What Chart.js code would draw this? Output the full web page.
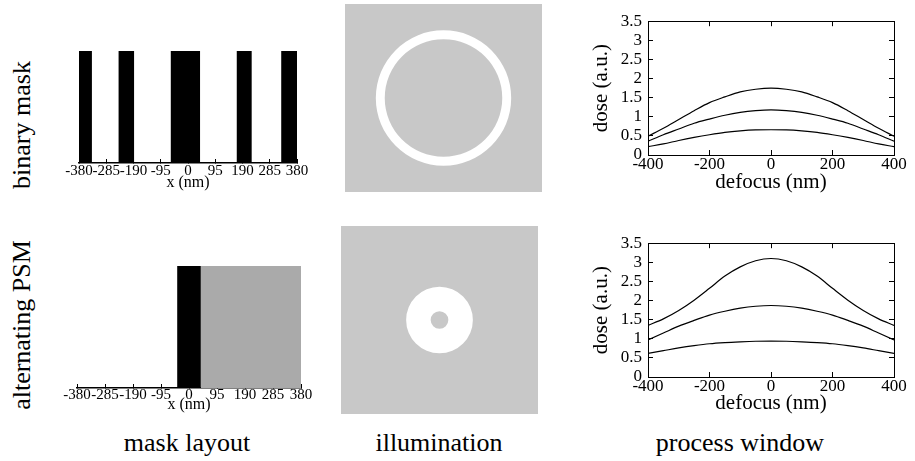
<!DOCTYPE html>
<html>
<head>
<meta charset="utf-8">
<script src="https://cdn.jsdelivr.net/npm/chart.js@4.4.1/dist/chart.umd.min.js"></script>
<style>
  body { margin: 0; width: 915px; height: 461px; position: relative; background: #fff; overflow: hidden;
         font-family: 'Liberation Serif', 'DejaVu Serif', serif; color: #000; }
  canvas { position: absolute; }
  .lbl { position: absolute; font-size: 26px; line-height: 26px; white-space: nowrap; }
  .row { transform: translate(-50%, -50%) rotate(-90deg); }
  .col { transform: translateX(-50%); }
</style>
</head>
<body>
<div class="lbl row" style="left:22px; top:125px">binary mask</div>
<div class="lbl row" style="left:22px; top:325px">alternating PSM</div>
<div class="lbl col" style="left:187px; top:430px">mask layout</div>
<div class="lbl col" style="left:439px; top:430px">illumination</div>
<div class="lbl col" style="left:740px; top:430px">process window</div>

<canvas id="maskBinary" width="270" height="155" style="left:50px; top:40px"></canvas>
<canvas id="maskPsm" width="270" height="170" style="left:50px; top:250px"></canvas>
<canvas id="illumBinary" width="197" height="188" style="left:345px; top:4px; background:#c8c8c8"></canvas>
<canvas id="illumPsm" width="197" height="188" style="left:341px; top:226px; background:#c8c8c8"></canvas>
<canvas id="pwBinary" width="345" height="200" style="left:570px; top:0px"></canvas>
<canvas id="pwPsm" width="345" height="200" style="left:570px; top:222px"></canvas>

<script>
// mask layouts: edges in nm, level per interval (1 = covered)
const binaryEdges = [-380, -335, -242, -188, -60, 42, 170, 222, 325, 380];
const binaryChrome = [1, 0, 1, 0, 1, 0, 1, 0, 1];
const psmEdges = [-380, -40, 40, 380];
const psmChrome = [0, 1, 0];
const psmShifter = [0, 0, 1];

// annular illumination, relative to the pupil panel half size
const sigmaOuter = [0.72, 0.355];
const sigmaInner = [0.625, 0.094];

// process windows
const defocus = [-400, -350, -300, -250, -200, -150, -100, -50, 0, 50, 100, 150, 200, 250, 300, 350, 400];
const binaryDoseHigh = [0.49, 0.70, 0.93, 1.16, 1.37, 1.52, 1.65, 1.72, 1.75, 1.72, 1.65, 1.52, 1.37, 1.16, 0.93, 0.70, 0.49];
const binaryDoseMid = [0.36, 0.53, 0.68, 0.83, 0.94, 1.04, 1.115, 1.16, 1.18, 1.16, 1.115, 1.04, 0.94, 0.83, 0.68, 0.53, 0.36];
const binaryDoseLow = [0.22, 0.29, 0.38, 0.46, 0.53, 0.59, 0.63, 0.655, 0.66, 0.655, 0.63, 0.59, 0.53, 0.46, 0.38, 0.29, 0.22];
const psmDoseHigh = [1.35, 1.52, 1.74, 2.01, 2.32, 2.64, 2.88, 3.04, 3.10, 3.04, 2.88, 2.64, 2.32, 2.01, 1.74, 1.52, 1.35];
const psmDoseMid = [0.97, 1.15, 1.33, 1.48, 1.62, 1.72, 1.80, 1.85, 1.87, 1.85, 1.80, 1.72, 1.62, 1.48, 1.33, 1.15, 0.97];
const psmDoseLow = [0.62, 0.69, 0.76, 0.82, 0.87, 0.90, 0.92, 0.935, 0.94, 0.935, 0.92, 0.90, 0.87, 0.82, 0.76, 0.69, 0.62];

Chart.defaults.font.family = "'Liberation Serif', 'DejaVu Serif', serif";
Chart.defaults.color = '#000';

var common = {
    responsive: false,
    animation: false,
    events: [],
    plugins: { legend: { display: false }, tooltip: { enabled: false } }
};

function stepPoints(edges, levels) {
    var pts = levels.map((v, i) => ({ x: edges[i], y: v }));
    pts.push({ x: edges[edges.length - 1], y: levels[levels.length - 1] });
    return pts;
}

function maskSet(edges, levels, color) {
    return {
        data: stepPoints(edges, levels),
        stepped: true,
        fill: 'origin',
        backgroundColor: color,
        borderColor: 'rgba(0,0,0,0)',
        borderWidth: 0,
        pointRadius: 0
    };
}

function maskChart(id, datasets, pad, axisH, tickPad, titlePad) {
    new Chart(document.getElementById(id), {
        type: 'line',
        data: { datasets: datasets },
        options: Object.assign({}, common, {
            layout: { padding: pad },
            scales: {
                x: {
                    type: 'linear', min: -380, max: 380,
                    ticks: { stepSize: 95, autoSkip: false, maxRotation: 0, padding: tickPad, font: { size: 15 } },
                    grid: { drawOnChartArea: false, tickLength: -4, color: '#000' },
                    border: { color: '#000', width: 1.5 },
                    title: { display: true, text: 'x (nm)', font: { size: 16 }, padding: { top: 0, bottom: titlePad } },
                    afterFit: s => { s.height = axisH; }
                },
                y: { display: false, min: 0, max: 1 }
            }
        })
    });
}

maskChart('maskBinary', [maskSet(binaryEdges, binaryChrome, '#000')],
    { left: 29, right: 23, top: 11, bottom: 0 }, 32, 3, 3);
maskChart('maskPsm', [maskSet(psmEdges, psmChrome, '#000'), maskSet(psmEdges, psmShifter, '#aaaaaa')],
    { left: 27, right: 19, top: 16, bottom: 0 }, 32, 2, 6);

function illumChart(id, k) {
    new Chart(document.getElementById(id), {
        type: 'doughnut',
        data: { labels: ['source'], datasets: [{ data: [1], backgroundColor: '#fff', borderWidth: 0 }] },
        options: Object.assign({}, common, {
            radius: (sigmaOuter[k] * 100) + '%',
            cutout: (sigmaInner[k] / sigmaOuter[k] * 100) + '%'
        })
    });
}
illumChart('illumBinary', 0);
illumChart('illumPsm', 1);

function edgeAxis(pos, min, max, step, size) {
    return {
        type: 'linear', position: pos, min: min, max: max,
        ticks: { display: false, stepSize: step },
        grid: { drawOnChartArea: false, tickLength: -5, color: '#000' },
        border: { color: '#000' },
        afterFit: s => { if (pos === 'top') s.height = size; else s.width = size; }
    };
}

function windowChart(id, series, padTop, titlePad) {
    new Chart(document.getElementById(id), {
        type: 'line',
        data: {
            datasets: series.map(s => ({
                data: defocus.map((x, i) => ({ x: x, y: s[i] })),
                borderColor: '#000',
                borderWidth: 1.2,
                pointRadius: 0,
                cubicInterpolationMode: 'monotone',
                fill: false
            }))
        },
        options: Object.assign({}, common, {
            layout: { padding: { top: padTop, right: 21, left: 0, bottom: 0 } },
            scales: {
                x: {
                    type: 'linear', min: -400, max: 400,
                    ticks: { stepSize: 200, padding: 4, autoSkip: false, maxRotation: 0, font: { size: 17 } },
                    grid: { drawOnChartArea: false, tickLength: -5, color: '#000' },
                    border: { color: '#000' },
                    title: { display: true, text: 'defocus (nm)', font: { size: 21 }, padding: { top: 0, bottom: titlePad } },
                    afterFit: s => { s.height = 45; }
                },
                x2: edgeAxis('top', -400, 400, 200, 0),
                y: {
                    min: 0, max: 3.5,
                    ticks: { stepSize: 0.5, autoSkip: false, padding: 11, font: { size: 17 }, callback: v => String(v) },
                    grid: { drawOnChartArea: false, tickLength: -5, color: '#000' },
                    border: { color: '#000' },
                    title: { display: true, text: 'dose (a.u.)', font: { size: 21 }, padding: { top: 19, bottom: 0 } },
                    afterFit: s => { s.width = 78; }
                },
                y2: edgeAxis('right', 0, 3.5, 0.5, 0)
            }
        })
    });
}

windowChart('pwBinary', [binaryDoseHigh, binaryDoseMid, binaryDoseLow], 12, 5);
windowChart('pwPsm', [psmDoseHigh, psmDoseMid, psmDoseLow], 12, 6);
</script>
</body>
</html>
